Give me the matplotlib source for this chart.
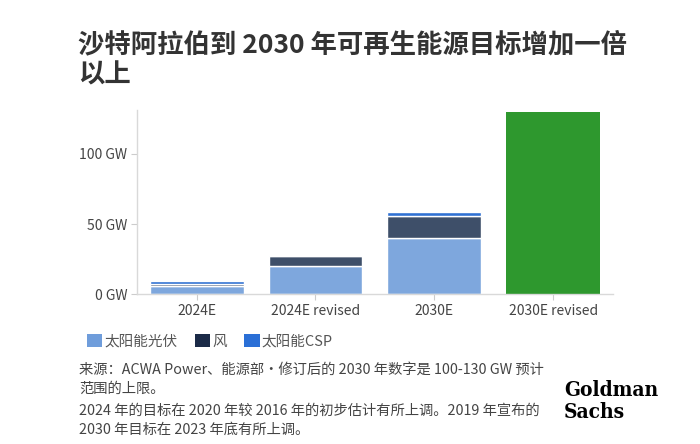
import numpy as np
import matplotlib
matplotlib.use("Agg")
import matplotlib.pyplot as plt
from matplotlib.patches import Patch

plt.rcParams["font.family"] = ["Noto Sans CJK SC", "DejaVu Sans"]
plt.rcParams["axes.unicode_minus"] = False

# 数据
categories = ["2024E", "2024E revised", "2030E", "2030E revised"]
solar_pv = np.array([5.6, 20, 40, 0])
wind = np.array([1.8, 7, 16, 0])
solar_csp = np.array([2.1, 0, 2.7, 0])
revised_total = np.array([0, 0, 0, 130])
yticks = [0, 50, 100]
ytick_labels = ["0 GW", "50 GW", "100 GW"]
legend_labels = ["太阳能光伏", "风", "太阳能CSP"]

c_pv = "#7ea7dd"
c_wind = "#3e4f69"
c_csp = "#2f70d2"
c_green = "#2e982e"
legend_colors = ["#6f9ddb", "#1b2a47", "#2a6fd6"]

fig = plt.figure(figsize=(7, 4.44), dpi=100)
ax = fig.add_axes([0.196, 0.337, 0.679, 0.415])

x = np.arange(len(categories))
w = 0.79
ax.bar(x, solar_pv, w, color=c_pv, edgecolor="white", linewidth=1)
ax.bar(x, wind, w, bottom=solar_pv, color=c_wind, edgecolor="white", linewidth=1)
ax.bar(x, solar_csp, w, bottom=solar_pv + wind, color=c_csp, edgecolor="white", linewidth=1)
ax.bar(x, revised_total, w, color=c_green, edgecolor="none")

ax.set_xlim(-0.5, 3.5)
ax.set_ylim(0, 131)
ax.set_yticks(yticks)
ax.set_yticklabels(ytick_labels)
ax.set_xticks(x)
ax.set_xticklabels(categories)
ax.tick_params(axis="both", length=4, color="#cccccc", labelsize=10, labelcolor="#444444", pad=3)

for s in ["top", "right"]:
    ax.spines[s].set_visible(False)
for s in ["left", "bottom"]:
    ax.spines[s].set_color("#d9d9d9")
    ax.spines[s].set_linewidth(1)

# 标题
fig.text(0.112, 0.899, "沙特阿拉伯到 2030 年可再生能源目标增加一倍", fontsize=19, fontweight="bold",
         color="#333333", va="center", ha="left")
fig.text(0.112, 0.831, "以上", fontsize=19, fontweight="bold", color="#333333", va="center", ha="left")

# 图例
handles = [Patch(facecolor=c, edgecolor="none") for c in legend_colors]
fig.legend(handles, legend_labels, loc="center left", bbox_to_anchor=(0.105, 0.232), ncol=3,
           frameon=False, fontsize=10.5, handlelength=1.05, handleheight=1.05, handletextpad=0.15,
           columnspacing=1.2, labelcolor="#555555")

# 注释
notes = [
    ("来源：ACWA Power、能源部·修订后的 2030 年数字是 100-130 GW 预计", 370),
    ("范围的上限。", 389),
    ("2024 年的目标在 2020 年较 2016 年的初步估计有所上调。2019 年宣布的", 411),
    ("2030 年目标在 2023 年底有所上调。", 430),
]
for txt, ypx in notes:
    fig.text(0.113, 1 - ypx / 444, txt, fontsize=10.3, color="#444444", va="center", ha="left")

fig.text(0.806, 0.122, "Goldman", family="DejaVu Serif", fontstretch="condensed", fontweight="bold",
         fontsize=15, color="black", va="center", ha="left")
fig.text(0.806, 0.072, "Sachs", family="DejaVu Serif", fontstretch="condensed", fontweight="bold",
         fontsize=15, color="black", va="center", ha="left")

fig.savefig("out.png", dpi=100)
